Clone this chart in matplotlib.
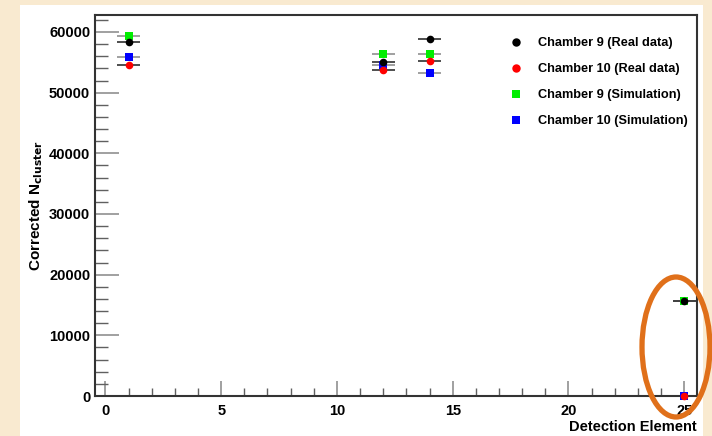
"""Corrected N_cluster per detection element, chamber 9/10, data vs simulation."""

import matplotlib
matplotlib.use("Agg")
import matplotlib.pyplot as plt
from matplotlib.patches import Ellipse, Rectangle
from matplotlib.ticker import MultipleLocator

plt.rcParams["font.family"] = ["Liberation Sans", "DejaVu Sans"]
plt.rcParams["font.weight"] = "bold"

# detection elements
de = [1, 12, 14, 25]
xerr = 0.5

ch9_real = [58300, 55050, 58800, 15600]
ch10_real = [54500, 53800, 55300, 0]
ch9_sim = [59300, 56300, 56300, 15600]
ch10_sim = [55850, 54500, 53200, 0]

series = [
    ("Chamber 9 (Simulation)", ch9_sim, "s", "#00ee00", "#909090"),
    ("Chamber 10 (Simulation)", ch10_sim, "s", "#0000ff", "#909090"),
    ("Chamber 9 (Real data)", ch9_real, "o", "black", "#303030"),
    ("Chamber 10 (Real data)", ch10_real, "o", "#ff0000", "#303030"),
]
legend_order = [
    "Chamber 9 (Real data)",
    "Chamber 10 (Real data)",
    "Chamber 9 (Simulation)",
    "Chamber 10 (Simulation)",
]

fig = plt.figure(figsize=(7.12, 4.36), dpi=100)
fig.patch.set_facecolor("#f9ead0")
fig.patches.append(Rectangle((20 / 712, 0), (703 - 20) / 712, 1 - 5 / 436,
                             transform=fig.transFigure, facecolor="white",
                             edgecolor="none", zorder=-10))

ax = fig.add_axes([95 / 712, 1 - 396 / 436, (697 - 95) / 712, (396 - 15) / 436])
ax.set_facecolor("white")

handles = {}
for label, ys, marker, color, ecolor in series:
    ax.errorbar(de, ys, xerr=xerr, fmt="none", ecolor=ecolor, elinewidth=1.2,
                capsize=0, zorder=2)
    h, = ax.plot(de, ys, linestyle="none", marker=marker, color=color,
                 markersize=5.5, markeredgewidth=0, zorder=3, clip_on=False)
    handles[label] = h

ax.set_xlim(-0.45, 25.55)
ax.set_ylim(0, 62800)

ax.xaxis.set_major_locator(MultipleLocator(5))
ax.xaxis.set_minor_locator(MultipleLocator(1))
ax.yaxis.set_major_locator(MultipleLocator(10000))
ax.yaxis.set_minor_locator(MultipleLocator(2000))

ax.tick_params(axis="both", which="both", direction="in", top=False, right=False,
               labelsize=10.5)
ax.tick_params(axis="y", which="major", length=17, width=1.2, color="#909090")
ax.tick_params(axis="y", which="minor", length=9, width=1.0, color="#606060")
ax.tick_params(axis="x", which="major", length=11, width=1.2, color="#909090")
ax.tick_params(axis="x", which="minor", length=6, width=1.0, color="#606060")
ax.tick_params(axis="x", pad=6)
for lbl in ax.get_xticklabels() + ax.get_yticklabels():
    lbl.set_fontweight("bold")

for sp in ax.spines.values():
    sp.set_color("#333333")
    sp.set_linewidth(1.5)

ax.set_ylabel(r"Corrected N$_{\mathbf{cluster}}$", fontsize=11, fontweight="bold")
ax.yaxis.set_label_coords(-0.083, 0.5)
fig.text(697 / 712, 1 - 427 / 436, "Detection Element", ha="right", va="center",
         fontsize=10.5, fontweight="bold")

leg = ax.legend([handles[k] for k in legend_order], legend_order,
                loc="upper left", bbox_to_anchor=(0.672, 0.972), frameon=False,
                fontsize=9.2, handlelength=0.8, handletextpad=1.3,
                labelspacing=1.1, markerscale=1.1)
for t in leg.get_texts():
    t.set_fontweight("bold")

# orange highlight ellipse around detection element 25
fig.patches.append(Ellipse((676 / 712, 1 - 347 / 436), 68 / 712, 140 / 436,
                           transform=fig.transFigure, facecolor="none",
                           edgecolor="#e0701a", linewidth=3.8, zorder=5))

fig.savefig("out.png", dpi=100, facecolor=fig.get_facecolor())
